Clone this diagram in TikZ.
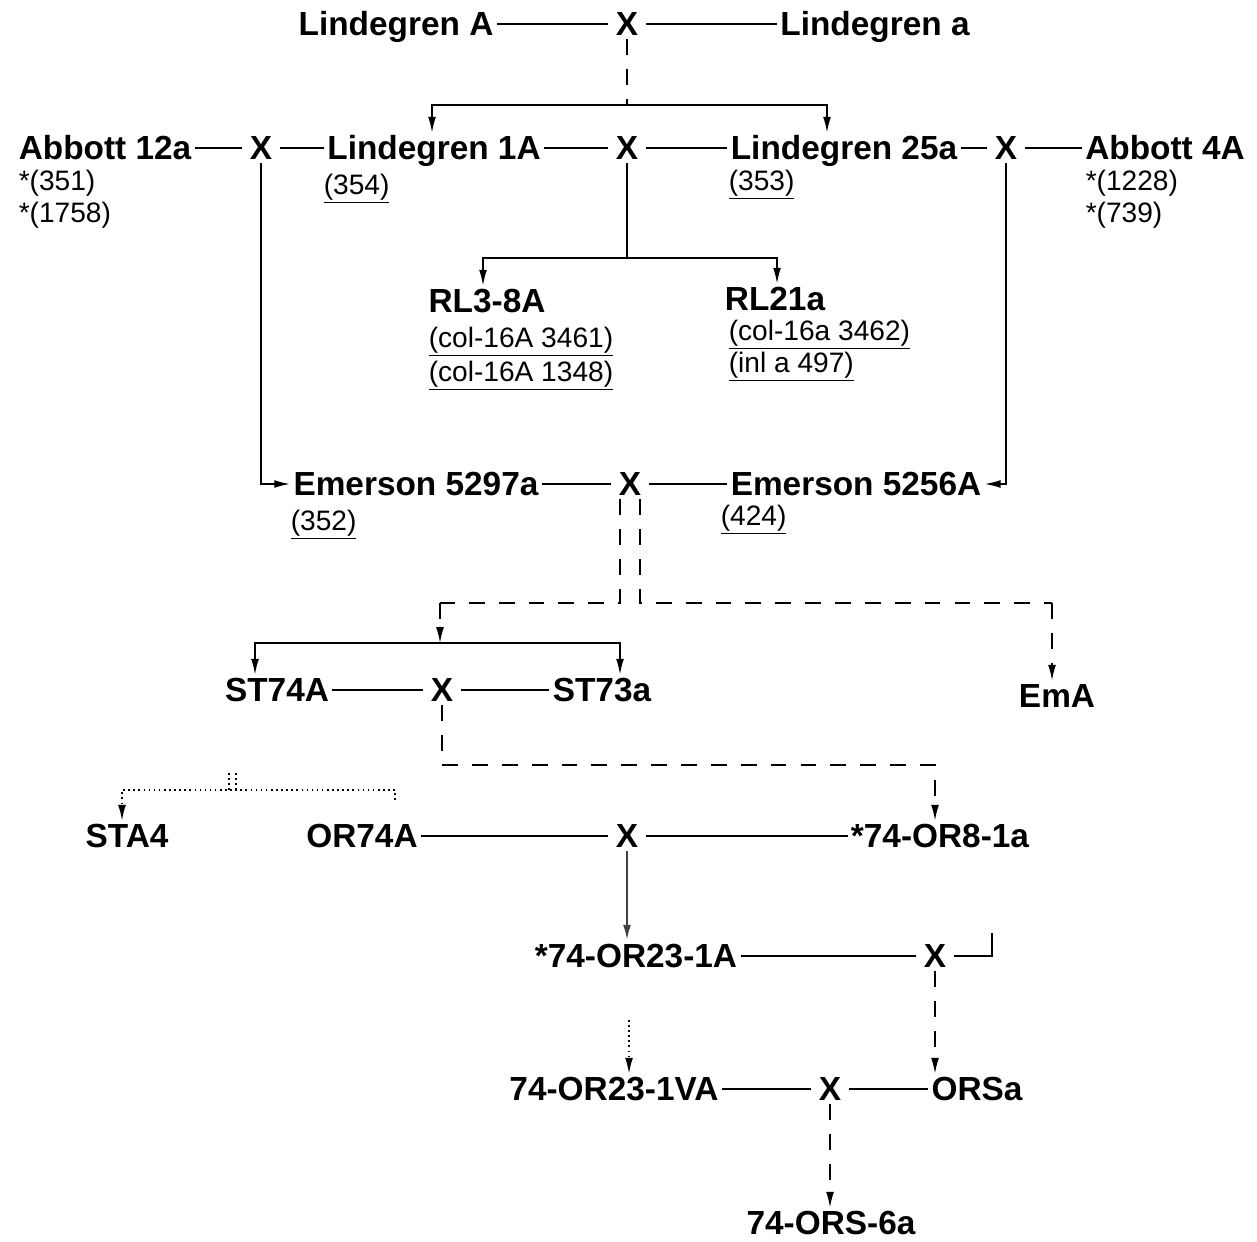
\documentclass[tikz,border=0pt]{standalone}
\usepackage{fontspec}
\setmainfont{Liberation Sans}
\usepackage{tikz}
\usetikzlibrary{arrows.meta}
\newcommand{\uref}[1]{\underline{#1}}

\begin{document}
\begin{tikzpicture}[x=0.02cm, y=-0.02cm, line width=0.9pt,
    strain/.style={font=\bfseries\fontsize{19}{21}\selectfont, inner sep=1.5pt, text height=13.6pt, text depth=0pt},
    cross/.style={strain, inner xsep=4pt},
    refno/.style={font=\fontsize{16}{18}\selectfont, inner sep=0pt, anchor=base west},
    dashline/.style={dash pattern=on 9pt off 8pt},
    dotline/.style={dotted},
    >={Latex[length=9pt,width=4.5pt]}]
    \useasboundingbox (0,0) rectangle (1257,1241);
    % Lindegren A x a
    \node[strain] (linA) at (396,24) {Lindegren A};
    \node[cross] (x1) at (627,24) {X};
    \node[strain] (lina) at (875,24) {Lindegren a};
    \draw (linA) -- (x1) -- (lina);
    \coordinate (b1L) at (432,105);
    \coordinate (b1R) at (827,105);
    \draw[dashline] (x1) -- (x1 |- b1L);
    % second row
    \node[strain] (ab12) at (105,148) {Abbott 12a};
    \node[cross] (xl) at (261,148) {X};
    \node[strain] (lin1A) at (434,148) {Lindegren 1A};
    \node[cross] (x2) at (627,148) {X};
    \node[strain] (lin25a) at (844,148) {Lindegren 25a};
    \node[cross] (xr) at (1006,148) {X};
    \node[strain] (ab4) at (1165,148) {Abbott 4A};
    \draw (ab12) -- (xl) -- (lin1A) -- (x2) -- (lin25a) -- (xr) -- (ab4);
    \draw[<->] (b1L |- lin1A.north) -- (b1L) -- (b1R) -- (b1R |- lin25a.north);
    \node[refno] (r351) at (18,190) {*(351)};
    \node[refno] (r1758) at (18,222) {*(1758)};
    \node[refno] (r354) at (323,194) {\uref{(354)}};
    \node[refno] (r353) at (728,190) {\uref{(353)}};
    \node[refno] (r1228) at (1085,190) {*(1228)};
    \node[refno] (r739) at (1085,222) {*(739)};
    % RL strains
    \node[strain] (rl3) at (487,301) {RL3-8A};
    \node[strain] (rl21) at (775,299) {RL21a};
    \coordinate (b2L) at (483,258);
    \coordinate (b2R) at (777,258);
    \draw (x2) -- (x2 |- b2L);
    \draw[<->] (b2L |- rl3.north) -- (b2L) -- (b2R) -- (b2R |- rl21.north);
    \node[refno] (r3461) at (428,347) {\uref{(col-16A 3461)}};
    \node[refno] (r1348) at (428,381) {\uref{(col-16A 1348)}};
    \node[refno] (r3462) at (728,340) {\uref{(col-16a 3462)}};
    \node[refno] (r497) at (728,372) {\uref{(inl a 497)}};
    % Emerson
    \node[strain] (em1) at (416,484) {Emerson 5297a};
    \node[cross] (x3) at (630,484) {X};
    \node[strain] (em2) at (856,484) {Emerson 5256A};
    \draw (em1) -- (x3) -- (em2);
    \draw[->] (xl) |- (em1);
    \draw[->] (xr) |- (em2);
    \node[refno] (r352) at (290,530) {\uref{(352)}};
    \node[refno] (r424) at (720,525) {\uref{(424)}};
    % ST row
    \node[strain] (st74) at (277,690) {ST74A};
    \node[cross] (x4) at (442,690) {X};
    \node[strain] (st73) at (602,690) {ST73a};
    \node[strain] (emA) at (1057,696) {EmA};
    \draw (st74) -- (x4) -- (st73);
    \coordinate (c3L) at (620,603);
    \coordinate (c3R) at (640,603);
    \coordinate (c4) at (440,603);
    \coordinate (c5) at (1052,603);
    \coordinate (b4L) at (255,643);
    \coordinate (b4R) at (620,643);
    \draw[dashline] (x3.south -| c3L) -- (c3L) -- (c4);
    \draw[dashline] (x3.south -| c3R) -- (c3R) -- (c5);
    \draw[dashline,->] (c4) -- (c4 |- b4L);
    \draw[dashline,->] (c5) -- (c5 |- emA.north);
    \draw[<->] (b4L |- st74.north) -- (b4L) -- (b4R) -- (b4R |- st73.north);
    % OR row
    \node[strain] (sta4) at (127,836) {STA4};
    \node[strain] (or74) at (362,836) {OR74A};
    \node[cross] (x5) at (627,836) {X};
    \node[strain] (or81) at (940,836) {*74-OR8-1a};
    \draw (or74) -- (x5) -- (or81);
    \coordinate (c6) at (442,765);
    \coordinate (c7) at (935,765);
    \draw[dashline,->] (x4) -- (c6) -- (c7) -- (c7 |- or81.north);
    \coordinate (d1) at (229,773);
    \coordinate (d2) at (229,790);
    \coordinate (d1r) at (236,773);
    \coordinate (d2r) at (236,790);
    \coordinate (d3) at (122,790);
    \coordinate (d4) at (395,790);
    \coordinate (d5) at (395,800);
    \draw[dotline] (d1) -- (d2);
    \draw[dotline] (d1r) -- (d2r);
    \draw[dotline,->] (d5) -- (d4) -- (d3) -- (d3 |- sta4.north);
    % 74-OR23 rows
    \node[strain] (or23) at (636,956) {*74-OR23-1A};
    \node[cross] (x6) at (935,956) {X};
    \coordinate (s1) at (992,956);
    \coordinate (s2) at (992,933);
    \draw[->, line width=1.4pt, black!75] (x5) -- (x5 |- or23.north);
    \draw (or23) -- (x6);
    \draw (x6) -- (s1) -- (s2);
    \node[strain] (or23v) at (614,1089) {74-OR23-1VA};
    \node[cross] (x7) at (830,1089) {X};
    \node[strain] (orsa) at (977,1089) {ORSa};
    \node[strain] (ors6) at (831,1223) {74-ORS-6a};
    \draw (or23v) -- (x7) -- (orsa);
    \draw[dashline,->] (x6) -- (x6 |- orsa.north);
    \coordinate (d6) at (629,1020);
    \draw[dotline,->] (d6) -- (d6 |- or23v.north);
    \draw[dashline,->] (x7) -- (x7 |- ors6.north);
\end{tikzpicture}
\end{document}
